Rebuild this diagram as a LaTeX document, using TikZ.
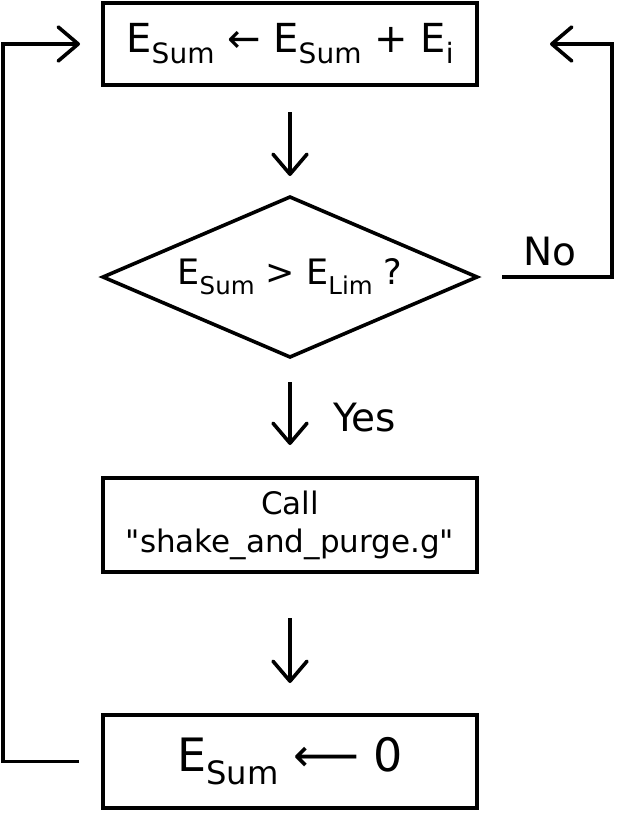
\documentclass[tikz,border=0pt]{standalone}
\usepackage{fontspec}
\setmainfont{DejaVu Sans}
\usepackage{graphicx}
\usetikzlibrary{positioning,shapes.geometric,arrows.meta}
\newcommand{\subtxt}[1]{\raisebox{-0.28em}{\scalebox{0.7}{#1}}}

\begin{document}
\begin{tikzpicture}[
    x=1pt, y=1pt,
    line width=3.6pt,
    box/.style={
        draw,
        align=center,
        minimum width=374pt,
        inner sep=0pt,
        outer sep=0pt
    },
    decision/.style={
        draw,
        diamond,
        aspect=2.34,
        minimum width=374pt,
        minimum height=160pt,
        inner sep=0pt,
        outer sep=0pt
    },
    arrow/.style={-{Straight Barb[length=20pt,width=34pt,round]}},
    label/.style={font=\fontsize{39pt}{46pt}\selectfont}
]
\useasboundingbox (0,0) rectangle (616,-814);

\node[box, minimum height=82pt, font=\fontsize{40pt}{46pt}\selectfont] (sum) at (290,-44)
    {E\subtxt{Sum} ← E\subtxt{Sum} + E\subtxt{i}};
\node[decision, below=112pt of sum, font=\fontsize{35pt}{40pt}\selectfont] (test)
    {E\subtxt{Sum} > E\subtxt{Lim} ?};
\node[box, minimum height=94pt, below=121pt of test, font=\fontsize{31pt}{38pt}\selectfont] (call)
    {Call\\\textquotedbl shake\_and\_purge.g\textquotedbl};
\node[box, minimum height=93pt, below=143pt of call, font=\fontsize{46pt}{52pt}\selectfont] (zero)
    {E\subtxt{Sum} ⟵ 0};

\draw[arrow, shorten <=27pt, shorten >=21pt] (sum) -- (test);
\draw[arrow, shorten <=25pt, shorten >=33pt] (test) --
    node[label, right, xshift=38pt] (yes) {Yes} (call);
\draw[arrow, shorten <=46pt, shorten >=32pt] (call) -- (zero);

% loop back after reset
\draw[arrow] ([xshift=-24pt]zero.west) -- ++(-76,0) |- ([xshift=-23pt]sum.west);
% no: keep adding
\draw[arrow] ([xshift=25pt]test.east) --
    node[label, above, xshift=-7pt, yshift=6pt] (no) {No} ++(110,0)
    |- ([xshift=73pt]sum.east);
\end{tikzpicture}
\end{document}
